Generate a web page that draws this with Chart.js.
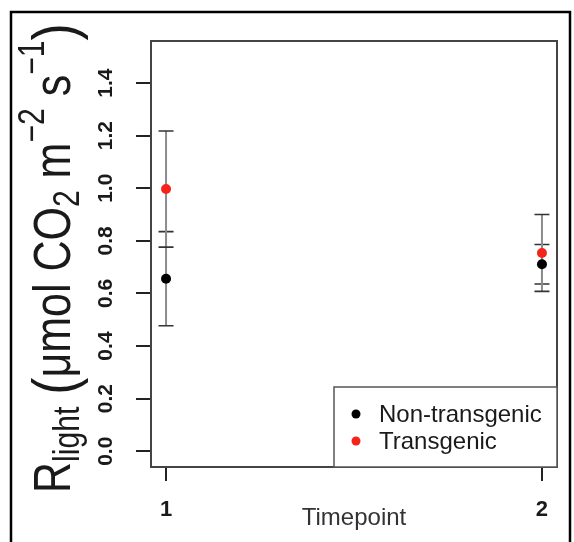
<!DOCTYPE html>
<html>
<head>
<meta charset="utf-8">
<script src="https://cdn.jsdelivr.net/npm/chart.js@4.4.0/dist/chart.umd.min.js"></script>
<style>
  body { margin: 0; background: #fff; }
</style>
</head>
<body>
<canvas id="grafico" width="574" height="542"></canvas>
<script>
// === DADOS ===
const timepoints = [1, 2];
const nonTransMean = [0.656, 0.711];
const nonTransErr = [0.179, 0.075];
const transMean = [0.997, 0.754];
const transErr = [0.221, 0.146];
const yTicks = [0, 0.2, 0.4, 0.6, 0.8, 1.0, 1.2, 1.4];
const seriesNames = ['Non-transgenic', 'Transgenic'];
const seriesColors = ['#000000', '#f5231a'];

const fonte = '"Liberation Sans", Arial, sans-serif';

// === FUNDO BRANCO ===
const fundo = {
  id: 'fundo',
  beforeDraw(chart) {
    const ctx = chart.ctx;
    ctx.save();
    ctx.fillStyle = '#fff';
    ctx.fillRect(0, 0, chart.width, chart.height);
    ctx.restore();
  }
};

// === BARRAS DE ERRO ===
const barrasErro = {
  id: 'barrasErro',
  beforeDatasetsDraw(chart) {
    const ctx = chart.ctx;
    const xs = chart.scales.x;
    const ys = chart.scales.y;
    ctx.save();
    chart.data.datasets.forEach(ds => {
      ds.data.forEach((p, i) => {
        const px = xs.getPixelForValue(p.x);
        const yTop = ys.getPixelForValue(p.y + ds.erros[i]);
        const yBot = ys.getPixelForValue(p.y - ds.erros[i]);
        ctx.strokeStyle = '#8c8c8c';
        ctx.lineWidth = 2;
        ctx.beginPath();
        ctx.moveTo(px, yTop);
        ctx.lineTo(px, yBot);
        ctx.stroke();
        ctx.strokeStyle = '#333';
        ctx.lineWidth = 1.6;
        ctx.beginPath();
        ctx.moveTo(px - 7.5, yTop); ctx.lineTo(px + 7.5, yTop);
        ctx.moveTo(px - 7.5, yBot); ctx.lineTo(px + 7.5, yBot);
        ctx.stroke();
      });
    });
    ctx.restore();
  }
};

// === CAIXA, LEGENDA, MOLDURA ===
const caixa = {
  id: 'caixa',
  afterDraw(chart) {
    const ctx = chart.ctx;
    const a = chart.chartArea;
    ctx.save();
    // caixa do gráfico
    ctx.strokeStyle = '#444';
    ctx.lineWidth = 2;
    ctx.strokeRect(a.left, a.top, a.right - a.left, a.bottom - a.top);

    // legenda
    const lx = a.right - 223, ly = a.bottom - 80;
    ctx.fillStyle = '#fff';
    ctx.fillRect(lx, ly, a.right - lx, a.bottom - ly);
    ctx.strokeStyle = '#555';
    ctx.lineWidth = 1.5;
    ctx.strokeRect(lx, ly, a.right - lx, a.bottom - ly);
    ctx.font = '24px ' + fonte;
    ctx.textBaseline = 'middle';
    chart.data.datasets.forEach((ds, i) => {
      const cy = ly + 27 + i * 27;
      ctx.fillStyle = ds.backgroundColor;
      ctx.beginPath();
      ctx.arc(lx + 22, cy, 4.5, 0, Math.PI * 2);
      ctx.fill();
      ctx.fillStyle = '#1a1a1a';
      ctx.fillText(ds.label, lx + 45, cy + 1);
    });

    // moldura externa
    ctx.strokeStyle = '#000';
    ctx.lineWidth = 2.5;
    ctx.strokeRect(11, 12, 559, 545);
    ctx.restore();
  }
};

// === TÍTULO DO EIXO Y (com subscrito e sobrescrito) ===
const tituloY = {
  id: 'tituloY',
  afterDraw(chart) {
    const ctx = chart.ctx;
    const F = 43;
    const partes = [
      { t: 'R', s: 1, dy: 0 },
      { t: 'light', s: 0.7, dy: 0.18 },
      { t: ' ', s: 1, dy: 0 },
      { t: '(', s: 1.2, dy: 0.1 },
      { t: 'μmol CO', s: 1, dy: 0 },
      { t: '2', s: 0.7, dy: 0.18 },
      { t: ' m', s: 1, dy: 0 },
      { t: '−2', s: 0.7, dy: -0.5 },
      { t: ' s', s: 1, dy: 0 },
      { t: '−1', s: 0.7, dy: -0.5 },
      { t: ')', s: 1.2, dy: 0.1 }
    ];
    ctx.save();
    ctx.translate(70, 493);
    ctx.rotate(-Math.PI / 2);
    ctx.scale(1, 1.2);
    ctx.fillStyle = '#1a1a1a';
    ctx.textBaseline = 'alphabetic';
    let x = 0;
    partes.forEach(p => {
      ctx.font = (F * p.s) + 'px ' + fonte;
      ctx.fillText(p.t, x, p.dy * F);
      x += ctx.measureText(p.t).width;
    });
    ctx.restore();
  }
};

// === GRÁFICO ===
const ctx = document.getElementById('grafico');

new Chart(ctx, {
  type: 'scatter',
  data: {
    datasets: [
      {
        label: seriesNames[0],
        data: timepoints.map((t, i) => ({ x: t, y: nonTransMean[i] })),
        erros: nonTransErr,
        backgroundColor: seriesColors[0],
        borderWidth: 0,
        pointRadius: 5,
        pointHoverRadius: 5
      },
      {
        label: seriesNames[1],
        data: timepoints.map((t, i) => ({ x: t, y: transMean[i] })),
        erros: transErr,
        backgroundColor: seriesColors[1],
        borderWidth: 0,
        pointRadius: 5,
        pointHoverRadius: 5
      }
    ]
  },
  options: {
    responsive: false,
    animation: false,
    devicePixelRatio: 1,
    layout: { padding: { top: 41, right: 17, left: 0, bottom: 0 } },
    plugins: {
      legend: { display: false },
      tooltip: { enabled: false }
    },
    scales: {
      x: {
        type: 'linear',
        min: 0.96,
        max: 2.04,
        afterBuildTicks: s => { s.ticks = timepoints.map(v => ({ value: v })); },
        afterFit: s => { s.height = 75; },
        border: { display: false },
        grid: {
          drawOnChartArea: false,
          tickLength: 14,
          tickColor: '#222',
          lineWidth: 2
        },
        ticks: {
          color: '#1a1a1a',
          font: { family: fonte, size: 22, weight: 'bold' },
          padding: 16
        },
        title: {
          display: true,
          text: 'Timepoint',
          color: '#333',
          font: { family: fonte, size: 24 },
          padding: { top: 0, bottom: 9 }
        }
      },
      y: {
        type: 'linear',
        min: -0.06,
        max: 1.56,
        afterBuildTicks: s => { s.ticks = yTicks.map(v => ({ value: v })); },
        afterFit: s => { s.width = 151; },
        border: { display: false },
        grid: {
          drawOnChartArea: false,
          tickLength: 15,
          tickColor: '#222',
          lineWidth: 2
        },
        ticks: {
          color: '#1a1a1a',
          font: { family: fonte, size: 21, weight: 'bold' },
          minRotation: 90,
          maxRotation: 90,
          crossAlign: 'center',
          padding: 15,
          callback: v => v.toFixed(1)
        }
      }
    }
  },
  plugins: [fundo, barrasErro, caixa, tituloY]
});
</script>
</body>
</html>
